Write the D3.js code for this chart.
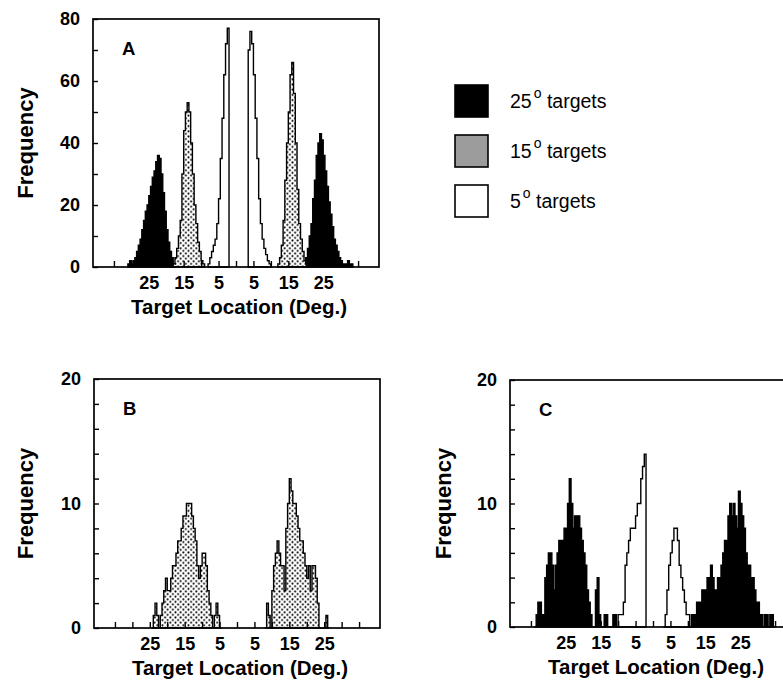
<!DOCTYPE html>
<html><head><meta charset="utf-8">
<script src="https://cdn.jsdelivr.net/npm/d3@7"></script>
<style>body{margin:0;background:#fff} svg{display:block}</style>
</head><body>
<svg id="chart" width="783" height="695"></svg>
<script>
// ---------- data (bin width 0.5 deg, each series: first bin start + counts) ----------
const binWidth = 0.5;
const xDomain = [-41, 41];
const xTickValues = [-35,-30,-25,-20,-15,-10,-5,0,5,10,15,20,25,30,35];
const xLabelValues = [-25,-15,-5,5,15,25];
const yMajorA = [0,20,40,60,80];
const yMinorA = [10,30,50,70];
const yMajorBC = [0,10,20];
const yMinorBC = [2,4,6,8,12,14,16,18];

// Panel A
const a25LeftStart = -31;
const a25Left = [1,2,1,2,3,5,7,9,12,15,18,20,23,26,29,31,34,36,35,30,24,18,12,8,5,3,1];
const a15LeftStart = -18;
const a15Left = [1,3,6,10,15,30,44,50,53,50,40,30,20,14,8,5,2,1];
const a5LeftStart = -8;
const a5Left = [1,3,5,7,9,14,22,35,48,62,72,77];
const a5RightStart = 3.5;
const a5Right = [70,76,72,62,48,35,22,14,9,6,4,2,1];
const a15RightStart = 12;
const a15Right = [1,3,7,15,28,40,50,62,66,56,40,25,14,9,5,2,1];
const a25RightStart = 19.5;
const a25Right = [1,3,6,10,14,22,28,36,40,43,41,36,31,26,21,17,13,9,7,5,3,2,1,1,1,2,1,1];

// Panel B
const b15LeftStart = -24.5;
const b15Left = [0,1,2,1,0,1,2,3,4,3,3,4,5,5,6,7,7,8,9,9,10,10,10,9,8,7,5,4,5,6,6,5,3,2,1,0,1,2,1,0];
const b15RightStart = 8;
const b15Right = [0,2,1,0,3,5,6,7,6,5,5,3,8,10,12,11,10,10,9,8,7,7,6,5,4,5,3,5,5,4,2,0,0,0,0,1,0];

// Panel C
const c25LeftStart = -34;
const c25Left = [0,1,2,2,1,1,4,5,6,6,5,3,5,6,7,7,7,8,8,10,12,10,8,9,9,9,8,7,6,5,3,2,1,0,0,3,4,1,0,0,1,1,0,0,0,1,1,0];
const c5LeftStart = -10.5;
const c5Left = [0,1,1,1,2,5,6,7,8,8,8,9,10,10,12,13,14];
const c5RightStart = 3;
const c5Right = [0,1,3,5,6,7,8,8,7,5,4,3,2,1,1,0];
const c25RightStart = 10.5;
const c25Right = [0,1,1,1,2,2,2,3,3,3,4,4,5,4,3,3,4,4,5,6,7,7,9,10,9,10,9,8,11,10,9,8,6,5,5,4,4,3,2,2,1,1,0,1,1,0,1,1,0];

const legendLabels = ["25", "15", "5"];
const legendKinds = ["k25", "k15", "k5"];

// ---------- drawing ----------
const svg = d3.select("#chart");
const FONT = "'Liberation Sans', Arial, Helvetica, sans-serif";
const defs = svg.append("defs");
const P = 5.2;
const pat = defs.append("pattern").attr("id","dots").attr("patternUnits","userSpaceOnUse")
  .attr("width",P).attr("height",P);
pat.append("rect").attr("width",P).attr("height",P).attr("fill","#fff");
pat.append("circle").attr("cx",1.3).attr("cy",1.3).attr("r",1.0).attr("fill","#000");
pat.append("circle").attr("cx",3.9).attr("cy",3.9).attr("r",1.0).attr("fill","#000");

const plotFill = {k25: "#000", k15: "url(#dots)", k5: "#fff"};
const legendFill = {k25: "#000", k15: "#9c9c9c", k5: "#fff"};

function drawPanel(cfg) {
  const {left, top, width, height, yMax, yMajor, yMinor, letter, series, ylabX} = cfg;
  const x = d3.scaleLinear().domain(xDomain).range([left, left + width]);
  const y = d3.scaleLinear().domain([0, yMax]).range([top + height, top]);
  const g = svg.append("g");

  const area = d3.area().x(d => x(d.x)).y0(y(0)).y1(d => y(d.v)).curve(d3.curveStepAfter);
  series.forEach(s => {
    const pts = s.values.map((v, i) => ({x: s.start + i * binWidth, v}));
    pts.push({x: s.start + s.values.length * binWidth, v: 0});
    g.append("path").attr("d", area(pts))
      .attr("fill", plotFill[s.kind]).attr("stroke", "#000")
      .attr("stroke-width", 1.4).attr("stroke-linejoin", "miter");
  });

  // frame
  g.append("rect").attr("x", left).attr("y", top).attr("width", width).attr("height", height)
    .attr("fill", "none").attr("stroke", "#000").attr("stroke-width", 1.7);

  // y axis ticks
  const yMin = g.append("g").attr("transform", `translate(${left},0)`)
    .call(d3.axisLeft(y).tickValues(yMinor).tickSize(-5).tickFormat(""));
  const yMaj = g.append("g").attr("transform", `translate(${left},0)`)
    .call(d3.axisLeft(y).tickValues(yMajor).tickSize(-5).tickPadding(13).tickFormat(d3.format("d")));
  // x axis
  const xAx = g.append("g").attr("transform", `translate(0,${top + height})`)
    .call(d3.axisBottom(x).tickValues(xTickValues).tickSize(-6).tickPadding(9)
      .tickFormat(d => xLabelValues.includes(d) ? String(Math.abs(d)) : ""));
  [yMin, yMaj, xAx].forEach(a => {
    a.select(".domain").remove();
    a.selectAll("line").attr("stroke", "#000").attr("stroke-width", 1.4);
    a.selectAll("text").attr("font-family", FONT).attr("font-weight", "bold")
      .attr("font-size", 18).attr("fill", "#000");
  });

  // panel letter
  g.append("text").attr("x", left + 29).attr("y", top + 36).text(letter)
    .attr("font-family", FONT).attr("font-weight", "bold").attr("font-size", 18.5);

  // x title
  g.append("text").attr("x", left + width / 2 + 3).attr("y", top + height + 47)
    .attr("text-anchor", "middle").text("Target Location (Deg.)")
    .attr("font-family", FONT).attr("font-weight", "bold").attr("font-size", 20.5);
  // y title
  g.append("text").attr("transform", `translate(${ylabX},${top + height / 2}) rotate(-90)`)
    .attr("text-anchor", "middle").attr("dy", "0.35em").text("Frequency")
    .attr("font-family", FONT).attr("font-weight", "bold").attr("font-size", 22);
}

drawPanel({left: 93, top: 19, width: 286, height: 248, yMax: 80, yMajor: yMajorA, yMinor: yMinorA,
  letter: "A", ylabX: 25, series: [
    {kind: "k25", start: a25LeftStart, values: a25Left},
    {kind: "k25", start: a25RightStart, values: a25Right},
    {kind: "k15", start: a15LeftStart, values: a15Left},
    {kind: "k15", start: a15RightStart, values: a15Right},
    {kind: "k5", start: a5LeftStart, values: a5Left},
    {kind: "k5", start: a5RightStart, values: a5Right}]});

drawPanel({left: 94, top: 379, width: 286, height: 249, yMax: 20, yMajor: yMajorBC, yMinor: yMinorBC,
  letter: "B", ylabX: 25, series: [
    {kind: "k15", start: b15LeftStart, values: b15Left},
    {kind: "k15", start: b15RightStart, values: b15Right}]});

drawPanel({left: 510, top: 380, width: 286, height: 247, yMax: 20, yMajor: yMajorBC, yMinor: yMinorBC,
  letter: "C", ylabX: 443, series: [
    {kind: "k25", start: c25LeftStart, values: c25Left},
    {kind: "k25", start: c25RightStart, values: c25Right},
    {kind: "k5", start: c5LeftStart, values: c5Left},
    {kind: "k5", start: c5RightStart, values: c5Right}]});

// legend
const lg = svg.append("g");
legendLabels.forEach((lab, i) => {
  const yTop = 85 + i * 50;
  lg.append("rect").attr("x", 455).attr("y", yTop).attr("width", 33).attr("height", 32)
    .attr("fill", legendFill[legendKinds[i]]).attr("stroke", "#000").attr("stroke-width", 1.6);
  const t = lg.append("text").attr("x", 510).attr("y", yTop + 23)
    .attr("font-family", FONT).attr("font-size", 19.5).attr("fill", "#000");
  t.append("tspan").text(lab);
  t.append("tspan").text("o").attr("font-size", 14).attr("dx", 2).attr("dy", -10);
  t.append("tspan").text(" targets").attr("dy", 10);
});
</script>
</body></html>
